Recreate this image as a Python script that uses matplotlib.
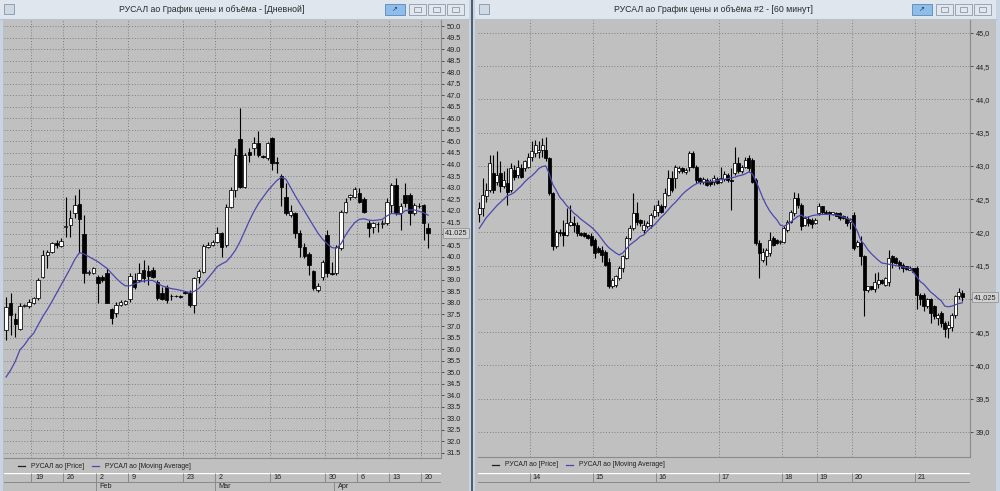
import numpy as np
import matplotlib
matplotlib.use("Agg")
import matplotlib.pyplot as plt
from matplotlib.patches import Rectangle

plt.rcParams['font.family'] = ['Liberation Sans', 'DejaVu Sans']

## data: daily chart (left window)
day_open = [36.83, 38.01, 37.29, 36.86, 37.88, 37.87, 37.98, 38.20, 39.14, 40.08,
            40.22, 40.61, 40.47, 41.28, 41.38, 41.88, 42.29, 40.99, 39.28, 39.28,
            39.14, 39.14, 39.28, 37.72, 37.55, 37.91, 37.96, 38.16, 38.99, 38.99,
            39.43, 39.40, 39.43, 38.92, 38.42, 38.71, 38.30, 38.31, 38.28, 38.46,
            38.42, 37.91, 39.11, 39.36, 40.44, 40.51, 40.66, 41.02, 40.51, 42.17,
            42.89, 45.09, 43.04, 44.56, 44.70, 44.95, 44.36, 44.27, 45.13, 44.12,
            43.50, 42.61, 41.81, 41.88, 41.05, 40.44, 40.12, 39.40, 38.56, 39.14,
            40.95, 39.30, 39.28, 40.37, 41.96, 42.61, 42.61, 42.78, 42.49, 41.48,
            41.31, 41.42, 41.44, 41.45, 42.24, 43.11, 41.88, 42.68, 42.68, 41.88,
            42.20, 42.24, 41.23]
day_high = [38.27, 38.42, 37.55, 37.98, 37.96, 38.16, 38.27, 39.07, 40.30, 40.30,
            40.66, 40.73, 40.80, 42.58, 42.03, 42.68, 42.92, 41.81, 39.43, 39.54,
            39.21, 39.21, 39.50, 37.77, 38.06, 38.13, 38.13, 39.28, 39.28, 39.72,
            39.86, 39.65, 39.57, 38.99, 38.71, 38.78, 38.37, 38.35, 38.33, 38.50,
            38.56, 39.14, 39.46, 40.55, 40.66, 40.73, 41.31, 41.09, 42.29, 43.01,
            44.70, 46.43, 44.48, 44.70, 45.21, 45.47, 44.41, 44.99, 45.18, 44.31,
            43.59, 43.18, 42.24, 41.96, 41.16, 40.58, 40.22, 39.43, 38.85, 39.86,
            41.16, 39.79, 40.51, 42.03, 42.53, 42.72, 43.01, 42.97, 42.58, 41.59,
            41.52, 41.52, 41.59, 42.53, 43.18, 43.40, 42.32, 43.18, 42.75, 42.32,
            42.35, 42.29, 41.45]
day_low = [36.40, 36.61, 36.54, 36.83, 37.81, 37.77, 37.95, 38.13, 39.07, 39.50,
           40.15, 40.37, 40.44, 40.84, 40.87, 41.67, 40.15, 38.85, 39.21, 39.26,
           37.98, 38.92, 37.98, 37.09, 37.41, 37.87, 37.91, 38.06, 38.59, 38.92,
           38.92, 38.78, 39.07, 38.13, 38.13, 37.98, 38.13, 38.25, 38.22, 38.40,
           37.84, 37.55, 38.85, 39.28, 40.37, 40.47, 40.58, 40.01, 40.44, 42.10,
           42.61, 42.97, 42.97, 44.12, 44.41, 44.34, 44.27, 44.19, 43.76, 43.62,
           42.20, 41.81, 41.74, 40.80, 40.01, 39.93, 39.21, 38.56, 38.49, 38.99,
           39.14, 39.21, 39.21, 40.30, 41.88, 42.46, 42.55, 42.32, 41.88, 40.87,
           41.02, 41.09, 41.23, 41.38, 41.88, 41.81, 41.16, 42.17, 41.38, 41.81,
           42.10, 40.73, 40.37]
day_close = [37.84, 37.48, 37.09, 37.87, 37.89, 38.06, 38.20, 38.99, 40.08, 40.22,
             40.58, 40.52, 40.70, 41.33, 41.67, 42.24, 41.62, 39.28, 39.36, 39.50,
             38.88, 38.99, 38.01, 37.33, 37.91, 38.06, 38.08, 39.17, 38.71, 39.31,
             39.07, 39.18, 39.14, 38.20, 38.19, 38.13, 38.31, 38.30, 38.27, 38.45,
             37.91, 39.07, 39.40, 40.47, 40.51, 40.66, 41.02, 40.44, 42.17, 42.89,
             44.41, 43.01, 44.41, 44.41, 44.95, 44.41, 44.34, 44.95, 44.08, 44.05,
             43.01, 41.88, 42.00, 41.02, 40.44, 40.04, 39.65, 38.63, 38.74, 39.79,
             39.28, 39.26, 40.44, 41.96, 42.39, 42.68, 42.92, 42.39, 41.96, 41.23,
             41.45, 41.44, 41.47, 42.39, 43.11, 41.88, 42.20, 42.32, 41.88, 42.24,
             42.22, 41.45, 41.02]
day_ma = [34.79, 35.09, 35.46, 35.96, 36.18, 36.47, 36.68, 37.05, 37.41, 37.72,
          38.06, 38.42, 38.78, 39.14, 39.50, 39.89, 40.18, 40.12, 40.01, 39.90,
          39.79, 39.64, 39.50, 39.28, 39.07, 38.88, 38.74, 38.74, 38.82, 38.91,
          38.95, 38.98, 38.97, 38.85, 38.74, 38.68, 38.62, 38.59, 38.55, 38.50,
          38.46, 38.50, 38.63, 38.82, 39.07, 39.31, 39.57, 39.69, 39.79, 40.01,
          40.29, 40.66, 41.10, 41.55, 41.95, 42.30, 42.58, 42.85, 43.08, 43.30,
          43.45, 43.36, 43.01, 42.65, 42.32, 42.00, 41.67, 41.34, 41.02, 40.76,
          40.56, 40.40, 40.37, 40.56, 40.94, 41.23, 41.48, 41.62, 41.65, 41.59,
          41.57, 41.59, 41.62, 41.77, 41.88, 41.86, 41.83, 42.00, 42.03, 42.03,
          41.97, 41.91, 41.80]
day_ticks = [6, 13, 20, 27, 39, 46, 58, 70, 77, 84, 91]
day_tick_labels = ["19", "26", "2", "9", "23", "2", "16", "30", "6", "13", "20"]
day_months = [20, 46, 72]
day_month_labels = ["Feb", "Mar", "Apr"]

## data: 60 minute chart (right window)
hour_open = [42.27, 42.36, 42.54, 42.64, 42.89, 42.76, 42.89, 42.69, 42.74, 42.64,
             42.94, 42.87, 42.97, 42.97, 42.99, 43.14, 43.19, 43.21, 43.24, 43.24,
             43.12, 42.59, 41.79, 42.01, 42.01, 41.96, 42.11, 42.14, 42.11, 41.99,
             41.99, 41.96, 41.94, 41.89, 41.76, 41.74, 41.71, 41.56, 41.19, 41.21,
             41.31, 41.46, 41.61, 41.91, 42.06, 42.29, 42.19, 42.04, 42.09, 42.11,
             42.24, 42.31, 42.39, 42.39, 42.56, 42.82, 42.82, 42.92, 42.97, 42.91,
             42.99, 43.19, 42.99, 42.82, 42.76, 42.79, 42.78, 42.76, 42.81, 42.76,
             42.81, 42.87, 42.79, 42.89, 43.04, 42.92, 42.99, 43.12, 43.09, 42.79,
             41.84, 41.59, 41.64, 41.69, 41.91, 41.89, 41.85, 41.86, 42.04, 42.16,
             42.29, 42.51, 42.41, 42.11, 42.20, 42.19, 42.14, 42.29, 42.39, 42.31,
             42.30, 42.27, 42.29, 42.29, 42.25, 42.21, 42.16, 42.26, 41.80, 41.84,
             41.64, 41.13, 41.19, 41.15, 41.22, 41.29, 41.21, 41.26, 41.64, 41.61,
             41.56, 41.51, 41.49, 41.44, 41.46, 41.46, 41.06, 41.06, 40.89, 40.99,
             40.89, 40.71, 40.79, 40.64, 40.56, 40.58, 40.76, 41.04, 41.09]
hour_high = [42.46, 42.82, 42.74, 43.17, 43.17, 43.22, 43.07, 42.92, 42.97, 43.04,
             43.02, 43.09, 43.03, 43.09, 43.19, 43.37, 43.39, 43.37, 43.42, 43.44,
             43.14, 42.61, 42.04, 42.05, 42.19, 42.36, 42.41, 42.24, 42.16, 42.01,
             42.00, 41.98, 41.99, 41.91, 41.79, 41.79, 41.74, 41.61, 41.31, 41.36,
             41.49, 41.66, 41.94, 42.11, 42.59, 42.46, 42.20, 42.19, 42.17, 42.29,
             42.41, 42.49, 42.43, 42.66, 42.94, 42.92, 43.02, 43.00, 42.99, 42.97,
             43.22, 43.22, 43.02, 42.83, 42.84, 42.82, 42.80, 42.87, 42.84, 42.99,
             42.92, 42.90, 42.97, 43.29, 43.14, 43.02, 43.14, 43.17, 43.12, 42.82,
             41.89, 41.76, 41.76, 42.01, 41.94, 41.90, 41.88, 42.09, 42.19, 42.34,
             42.61, 42.59, 42.44, 42.24, 42.25, 42.21, 42.21, 42.44, 42.40, 42.33,
             42.32, 42.31, 42.30, 42.30, 42.26, 42.24, 42.22, 42.30, 41.88, 41.94,
             41.66, 41.20, 41.20, 41.39, 41.41, 41.30, 41.33, 41.74, 41.66, 41.63,
             41.59, 41.54, 41.50, 41.49, 41.47, 41.49, 41.09, 41.09, 41.01, 41.01,
             40.91, 40.79, 40.81, 40.66, 40.66, 40.79, 41.06, 41.16, 41.14]
hour_low = [42.16, 42.24, 42.46, 42.61, 42.59, 42.71, 42.61, 42.66, 42.41, 42.61,
            42.79, 42.82, 42.82, 42.92, 42.97, 43.07, 43.14, 43.12, 43.14, 43.07,
            42.56, 41.74, 41.76, 41.95, 41.79, 41.94, 42.09, 42.01, 41.94, 41.94,
            41.93, 41.90, 41.79, 41.61, 41.69, 41.56, 41.49, 41.16, 41.16, 41.18,
            41.29, 41.41, 41.60, 41.89, 42.04, 42.11, 42.10, 41.99, 42.06, 42.06,
            42.21, 42.24, 42.29, 42.36, 42.54, 42.61, 42.66, 42.90, 42.89, 42.88,
            42.92, 42.97, 42.74, 42.73, 42.73, 42.69, 42.70, 42.71, 42.72, 42.74,
            42.78, 42.76, 42.34, 42.87, 42.89, 42.89, 42.97, 42.92, 42.74, 41.81,
            41.31, 41.56, 41.51, 41.64, 41.79, 41.82, 41.83, 41.84, 42.00, 42.14,
            42.24, 42.36, 42.04, 42.09, 42.10, 42.06, 42.12, 42.26, 42.28, 42.27,
            42.19, 42.26, 42.24, 42.19, 42.20, 42.09, 42.05, 41.74, 41.78, 41.51,
            40.74, 41.11, 41.13, 41.11, 41.17, 41.22, 41.20, 41.19, 41.46, 41.52,
            41.45, 41.41, 41.44, 41.43, 41.40, 40.84, 40.91, 40.81, 40.86, 40.64,
            40.69, 40.61, 40.58, 40.43, 40.41, 40.51, 40.71, 40.99, 40.96]
hour_close = [42.36, 42.56, 42.64, 43.04, 42.64, 42.87, 42.69, 42.79, 42.61, 42.97,
              42.84, 42.99, 42.84, 43.07, 43.14, 43.22, 43.32, 43.24, 43.32, 43.12,
              42.59, 41.79, 42.01, 41.99, 41.96, 42.14, 42.16, 42.11, 41.99, 41.96,
              41.95, 41.92, 41.81, 41.69, 41.71, 41.66, 41.51, 41.19, 41.29, 41.34,
              41.46, 41.64, 41.91, 42.06, 42.29, 42.16, 42.14, 42.11, 42.14, 42.26,
              42.34, 42.41, 42.31, 42.59, 42.82, 42.64, 42.99, 42.97, 42.92, 42.94,
              43.19, 42.99, 42.79, 42.76, 42.81, 42.71, 42.73, 42.82, 42.74, 42.82,
              42.88, 42.79, 42.78, 43.04, 42.92, 42.99, 43.09, 42.97, 42.76, 41.84,
              41.69, 41.71, 41.74, 41.89, 41.81, 41.84, 41.86, 42.06, 42.16, 42.31,
              42.51, 42.41, 42.09, 42.21, 42.14, 42.12, 42.19, 42.39, 42.30, 42.29,
              42.27, 42.30, 42.25, 42.21, 42.21, 42.14, 42.20, 41.76, 41.86, 41.64,
              41.14, 41.19, 41.15, 41.25, 41.29, 41.24, 41.31, 41.61, 41.56, 41.54,
              41.50, 41.46, 41.45, 41.47, 41.41, 41.06, 40.99, 40.89, 40.99, 40.79,
              40.74, 40.76, 40.64, 40.55, 40.61, 40.76, 41.04, 41.11, 41.03]
hour_ma = [42.06, 42.14, 42.22, 42.28, 42.34, 42.40, 42.45, 42.50, 42.55, 42.57,
           42.60, 42.65, 42.70, 42.76, 42.81, 42.85, 42.90, 42.96, 42.99, 43.00,
           42.88, 42.72, 42.63, 42.53, 42.47, 42.40, 42.35, 42.29, 42.25, 42.20,
           42.16, 42.12, 42.08, 42.03, 41.97, 41.90, 41.83, 41.77, 41.73, 41.69,
           41.66, 41.69, 41.75, 41.81, 41.85, 41.89, 41.94, 41.96, 42.02, 42.07,
           42.11, 42.17, 42.23, 42.28, 42.34, 42.40, 42.45, 42.51, 42.57, 42.62,
           42.66, 42.70, 42.73, 42.75, 42.755, 42.76, 42.76, 42.77, 42.78, 42.79,
           42.80, 42.81, 42.82, 42.83, 42.85, 42.86, 42.88, 42.91, 42.88, 42.78,
           42.65, 42.52, 42.41, 42.32, 42.25, 42.19, 42.11, 42.09, 42.12, 42.16,
           42.20, 42.24, 42.26, 42.22, 42.23, 42.25, 42.26, 42.265, 42.27, 42.27,
           42.27, 42.265, 42.26, 42.25, 42.23, 42.21, 42.19, 42.12, 42.02, 41.88,
           41.82, 41.74, 41.68, 41.63, 41.58, 41.54, 41.53, 41.52, 41.51, 41.50,
           41.49, 41.48, 41.47, 41.46, 41.40, 41.33, 41.26, 41.22, 41.16, 41.10,
           41.06, 41.01, 40.97, 40.89, 40.88, 40.89, 40.91, 40.93, 40.94]
hour_ticks = [15, 33, 51, 69, 87, 97, 107, 125]
hour_tick_labels = ["14", "15", "16", "17", "18", "19", "20", "21"]

last_price = 41.025

W, H = 1000, 491
PLOT_BG = "#c0c0c0"
GRID = "#777777"
MA_COLOR = "#4a48b0"


def px(x, y, w, h):
    # pixel box (top-left origin) -> figure fraction
    return [x / W, 1 - (y + h) / H, w / W, h / H]


def draw_candles(ax, o, h, l, c, width):
    o, h, l, c = map(np.asarray, (o, h, l, c))
    x = np.arange(len(o))
    up = c >= o
    body = np.maximum(np.abs(c - o), 0.015)
    ax.vlines(x, l, h, color="black", linewidth=0.8, zorder=3)
    ax.bar(x[up], body[up], bottom=o[up], width=width, color="white",
           edgecolor="black", linewidth=0.55, zorder=4)
    ax.bar(x[~up], body[~up], bottom=c[~up], width=width, color="black",
           edgecolor="black", linewidth=0.55, zorder=4)


def price_panel(rect, o, h, l, c, ma, xlim, ylim, yt, fmt, seps, width, last_fmt):
    ax = fig.add_axes(px(*rect))
    ax.set_facecolor(PLOT_BG)
    draw_candles(ax, o, h, l, c, width)
    ax.plot(np.arange(len(ma)), ma, color=MA_COLOR, linewidth=0.9, zorder=5)
    ax.set_xlim(*xlim)
    ax.set_ylim(*ylim)
    ax.set_xticks([])
    ax.yaxis.tick_right()
    ax.set_yticks(yt)
    ax.set_yticklabels([fmt(v) if abs(v - 41.0) > 1e-6 else "" for v in yt])
    ax.tick_params(axis="y", length=2, width=0.5, pad=2, labelsize=5.3,
                   colors="#202020")
    for v in yt:
        ax.axhline(v, color=GRID, linewidth=0.6, linestyle=(0, (1.2, 2.2)), zorder=1)
    for s in seps:
        ax.axvline(s - 0.5, color=GRID, linewidth=0.6, linestyle=(0, (1.2, 2.2)), zorder=1)
    for side in ["top", "left"]:
        ax.spines[side].set_visible(False)
    for side in ["right", "bottom"]:
        ax.spines[side].set_color("#8a8a8a")
        ax.spines[side].set_linewidth(0.8)
    ax.text(1.008, last_price, last_fmt, transform=ax.get_yaxis_transform(),
            ha="left", va="center", fontsize=5.3, color="#202020", zorder=10,
            bbox=dict(boxstyle="square,pad=0.25", fc="#d2d2d2", ec="#8a8a8a", lw=0.5))
    return ax


def date_strip(rect, ax, ticks, labels, months, month_labels):
    ad = fig.add_axes(px(*rect), sharex=ax)
    ad.set_facecolor(PLOT_BG)
    ad.set_ylim(0, 2)
    ad.axis("off")
    ad.axhline(1.0, color="#8a8a8a", linewidth=0.7)
    ad.axhline(1.97, color="white", linewidth=1.0)
    ad.vlines(np.asarray(ticks) - 0.5, 1.0, 2.0, color="#8a8a8a", linewidth=0.7)
    for t, lab in zip(ticks, labels):
        ad.text(t + 0.3, 1.45, lab, fontsize=5.2, color="#202020", va="center", ha="left")
    if months:
        ad.vlines(np.asarray(months) - 0.5, 0.0, 1.0, color="#8a8a8a", linewidth=0.7)
        for t, lab in zip(months, month_labels):
            ad.text(t + 0.3, 0.45, lab, fontsize=5.2, color="#202020", va="center", ha="left")
    return ad


fig = plt.figure(figsize=(10, 4.91), dpi=100)
fig.patch.set_facecolor(PLOT_BG)

# window chrome
bg = fig.add_axes([0, 0, 1, 1])
bg.set_xlim(0, W)
bg.set_ylim(H, 0)
bg.axis("off")
bg.add_patch(Rectangle((0, 0), 3, H, fc="#c7d4e2", ec="none"))
bg.add_patch(Rectangle((996, 0), 4, H, fc="#c7d4e2", ec="none"))
bg.add_patch(Rectangle((469, 0), 6, H, fc="#c7d4e2", ec="none"))
bg.plot([471.5, 471.5], [0, H], color="#3a4656", linewidth=1.2)
for x0, x1, title, cx in [(0, 469, "РУСАЛ ао График цены и объёма - [Дневной]", 212),
                          (475, 996, "РУСАЛ ао График цены и объёма #2 - [60 минут]", 713)]:
    bg.add_patch(Rectangle((x0, 0), x1 - x0, 19, fc="#dfe6ee", ec="none"))
    bg.plot([x0, x1], [19, 19], color="#b4c2d2", linewidth=0.8)
    bg.text(cx, 9.5, title, ha="center", va="center", fontsize=6.3, color="#2a2a2a")
    bg.add_patch(Rectangle((x0 + 4, 4), 10, 10, fc="#cfd9e4", ec="#8395aa", linewidth=0.6))
    bg.add_patch(Rectangle((x1 - 84, 4), 20, 11, fc="#8fbde9", ec="#5a86b6", linewidth=0.6))
    bg.text(x1 - 74, 9.5, "\u2197", ha="center", va="center", fontsize=5, color="#1e3d6a")
    for k in range(3):
        bx = x1 - 60 + 19 * k
        bg.add_patch(Rectangle((bx, 4), 17, 11, fc="#e2e7ee", ec="#8c9aab", linewidth=0.6))
        bg.add_patch(Rectangle((bx + 5, 7), 7, 5, fc="none", ec="#7a8899", linewidth=0.5))

# legends
for x0, y0 in [(18, 466), (492, 465)]:
    bg.plot([x0, x0 + 7], [y0, y0], color="#202020", linewidth=0.9)
    bg.text(x0 + 13, y0, "РУСАЛ ао [Price]", fontsize=4.9, va="center", color="#202020")
    bg.plot([x0 + 74, x0 + 81], [y0, y0], color=MA_COLOR, linewidth=0.9)
    bg.text(x0 + 87, y0, "РУСАЛ ао [Moving Average]", fontsize=4.9, va="center", color="#202020")

# left: daily candles
ax1 = price_panel((4, 20, 437, 438), day_open, day_high, day_low, day_close, day_ma,
                  (-0.45, 94.8), (31.28, 50.26), np.arange(31.5, 50.01, 0.5),
                  lambda v: f"{v:.1f}", day_ticks, 0.75, "41.025")
date_strip((4, 473, 437, 18), ax1, day_ticks, day_tick_labels, day_months, day_month_labels)

# right: 60 minute candles
ax2 = price_panel((478, 20, 492, 437), hour_open, hour_high, hour_low, hour_close, hour_ma,
                  (-0.36, 140.2), (38.62, 45.195), np.arange(39.0, 45.01, 0.5),
                  lambda v: f"{v:.1f}".replace(".", ","), hour_ticks, 0.78, "41,025")
date_strip((478, 473, 492, 18), ax2, hour_ticks, hour_tick_labels, [], [])

fig.savefig("out.png", dpi=100, facecolor=fig.get_facecolor())
